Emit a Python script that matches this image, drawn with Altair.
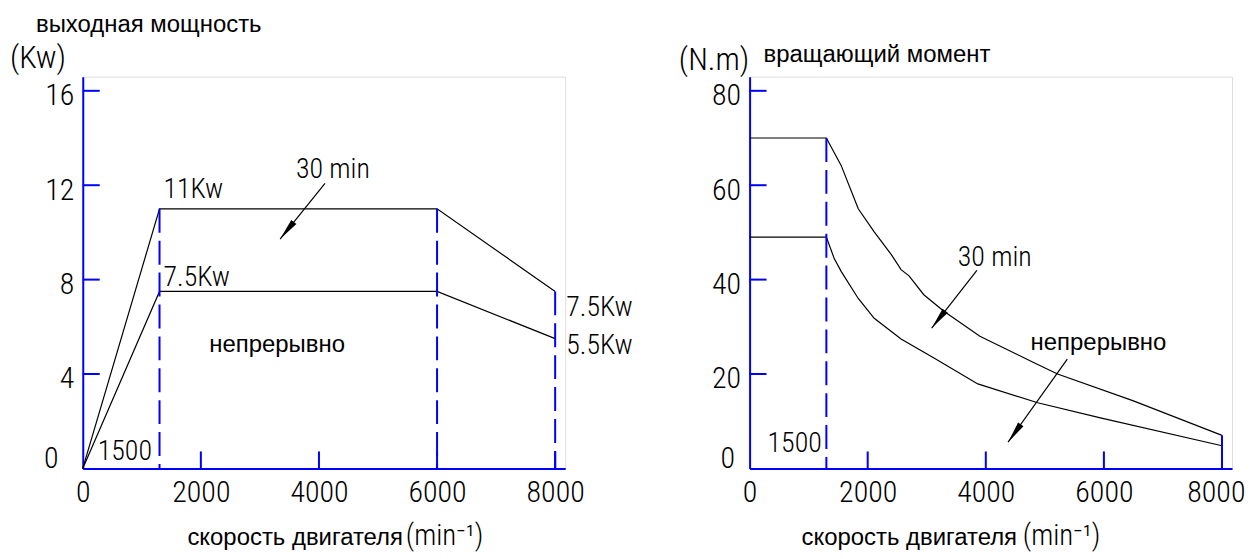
import math
import altair as alt
import pandas as pd

# ---------------- data ----------------
power_speed = [0, 1300, 6000, 8000]
power_30min = [0, 11, 11, 7.5]
power_cont = [0, 7.5, 7.5, 5.5]

torque_speed_30min = [0, 1300, 1550, 1840, 2110, 2400, 2565, 2700, 2950, 3290, 3900, 4800, 5215, 6500, 8000]
torque_30min = [70, 70, 64.2, 55.0, 50.1, 45.3, 42.1, 40.8, 36.8, 33.3, 28.0, 22.5, 20.0, 14.3, 7.0]
torque_speed_cont = [0, 1300, 1435, 1553, 1840, 2110, 2565, 3122, 3865, 4878, 5941, 8000]
torque_cont = [49, 49, 44.4, 41.7, 36.0, 31.8, 27.4, 23.4, 17.9, 13.9, 10.7, 4.8]

speed_labels = [0, 2000, 4000, 6000, 8000]
speed_ticks = [2000, 4000, 6000, 8000]
power_ticks = [4, 8, 12, 16]
torque_ticks = [20, 40, 60, 80]

power_guides_speed = [1300, 6000, 8000]
power_guides_top = [11, 11, 7.5]
torque_guides_speed = [1300, 8000]
torque_guides_top = [70, 7]

# ---------------- styling ----------------
BLUE = "#0000ff"
NARROW = "Roboto Condensed, DejaVu Sans Condensed, sans-serif"
SANS = "Liberation Sans, Arial, sans-serif"
LIGHT = 300
W, H = 484, 393
XMAX = 8170
PX_X = XMAX / W


def panel(ymax, yticks, series, guides, texts, arrows, anchors, pull_last=False):
    ppy = ymax / H
    xs = alt.Scale(domain=[0, XMAX], nice=False, zero=False)
    ys = alt.Scale(domain=[0, ymax], nice=False, zero=False)
    xextra = {}
    if pull_last:
        xextra = dict(
            labelAlign=alt.condition("datum.value == 8000", alt.value("right"), alt.value("center")),
            labelOffset=alt.condition("datum.value == 8000", alt.value(23), alt.value(0)),
        )
    xaxis = alt.Axis(values=speed_labels, format="d", title=None, grid=False, ticks=False, tickSize=0,
                     domainColor=BLUE, domainWidth=2, labelFont=NARROW, labelFontSize=30,
                     labelFontWeight=LIGHT, labelColor="black", labelPadding=9,
                     labelFlush=False, labelOverlap=False, **xextra)
    yaxis = alt.Axis(values=yticks, format="d", title=None, grid=False, ticks=False, tickSize=0,
                     domainColor=BLUE, domainWidth=2, labelFont=NARROW, labelFontSize=30,
                     labelFontWeight=LIGHT, labelColor="black", labelPadding=9, labelOffset=5,
                     labelBaseline="middle", labelFlush=False, labelOverlap=False)

    def X(f="x"):
        return alt.X(f"{f}:Q", scale=xs, axis=xaxis)

    def Y(f="y"):
        return alt.Y(f"{f}:Q", scale=ys, axis=yaxis)

    layers = []
    rows = []
    for name, sx, sy in series:
        for i, (a, b) in enumerate(zip(sx, sy)):
            rows.append({"s": name, "i": i, "x": a, "y": b})
    layers.append(alt.Chart(pd.DataFrame(rows)).mark_line(color="black", strokeWidth=1.2)
                  .encode(x=X(), y=Y(), detail="s:N", order="i:Q"))
    gdf = pd.DataFrame({"x": guides[0], "y": guides[1], "y2": [0] * len(guides[0])})
    layers.append(alt.Chart(gdf).mark_rule(color=BLUE, strokeWidth=2, strokeDash=[24, 8])
                  .encode(x=X(), y=Y(), y2="y2:Q"))
    layers.append(alt.Chart(pd.DataFrame({"y": yticks})).mark_rule(color=BLUE, strokeWidth=2)
                  .encode(y=Y(), x=alt.value(0), x2=alt.value(17)))
    layers.append(alt.Chart(pd.DataFrame({"x": speed_ticks})).mark_rule(color=BLUE, strokeWidth=2)
                  .encode(x=X(), y=alt.value(H), y2=alt.value(H - 17)))
    for t, x, y, font, size, align in texts:
        weight = LIGHT if font == NARROW else "normal"
        layers.append(alt.Chart(pd.DataFrame([{"x": x, "y": y, "t": t}]))
                      .mark_text(font=font, fontSize=size, fontWeight=weight, align=align,
                                 baseline="alphabetic", color="black")
                      .encode(x=X(), y=Y(), text="t:N"))
    for (x0, y0, x1, y1) in arrows:
        dxp = (x1 - x0) / PX_X
        dyp = -(y1 - y0) / ppy
        n = math.hypot(dxp, dyp)
        ux, uy = dxp / n, dyp / n
        ang = math.degrees(math.atan2(ux, -uy)) % 360
        L = 22
        cx = x1 - ux * L / 2 * PX_X
        cy = y1 + uy * L / 2 * ppy
        layers.append(alt.Chart(pd.DataFrame([{"x": x0, "y": y0, "x2": x1, "y2": y1}]))
                      .mark_rule(color="black", strokeWidth=1.2)
                      .encode(x=X(), y=Y(), x2="x2:Q", y2="y2:Q"))
        layers.append(alt.Chart(pd.DataFrame([{"x": cx, "y": cy}]))
                      .mark_point(shape="M0,-1L0.3,1L-0.3,1Z", filled=True, color="black",
                                  opacity=1, size=L * L, angle=ang)
                      .encode(x=X(), y=Y()))
    for (ax, ay) in anchors:
        layers.append(alt.Chart(pd.DataFrame([{"x": ax, "y": ay, "x2": ax + PX_X, "y2": ay}]))
                      .mark_rule(color="white", strokeWidth=1)
                      .encode(x=X(), y=Y(), x2="x2:Q", y2="y2:Q"))
    return alt.layer(*layers).properties(width=W, height=H)


left_texts = [
    ("(Kw)", -1232, 16.98, NARROW, 32, "left"),
    ("выходная мощность", -793, 18.5, SANS, 24, "left"),
    ("11Kw", 1367, 11.45, NARROW, 28, "left"),
    ("30 min", 4237, 12.29, NARROW, 28, "center"),
    ("7.5Kw", 1367, 7.73, NARROW, 28, "left"),
    ("непрерывно", 3292, 4.94, SANS, 24, "center"),
    ("7.5Kw", 8187, 6.46, NARROW, 28, "left"),
    ("5.5Kw", 8187, 4.86, NARROW, 28, "left"),
    ("1500", 253, 0.34, NARROW, 28, "left"),
    ("0", -532, 0, NARROW, 30, "center"),
    ("скорость двигателя", 1772, -3.25, SANS, 24, "left"),
    ("(min⁻¹)", 5469, -3.25, NARROW, 29, "left"),
]
left_arrows = [(4102, 12.08, 3342, 9.72)]

right_texts = [
    ("(N.m)", -1198, 84.5, NARROW, 32, "left"),
    ("вращающий момент", 236, 86.2, SANS, 24, "left"),
    ("30 min", 4152, 42.87, NARROW, 28, "center"),
    ("непрерывно", 5908, 25.13, SANS, 24, "center"),
    ("1500", 304, 3.38, NARROW, 28, "left"),
    ("0", -371, 0, NARROW, 30, "center"),
    ("скорость двигателя", 878, -16.25, SANS, 24, "left"),
    ("(min⁻¹)", 4625, -16.25, NARROW, 29, "left"),
]
right_arrows = [(3849, 41.97, 3084, 29.72), (5380, 23.17, 4377, 5.55)]

left = panel(16.6, power_ticks,
             [("30min", power_speed, power_30min), ("cont", power_speed, power_cont)],
             (power_guides_speed, power_guides_top), left_texts, left_arrows,
             [(-1249, 19.43), (9892, 7.1)])
right = panel(83, torque_ticks,
              [("30min", torque_speed_30min, torque_30min), ("cont", torque_speed_cont, torque_cont)],
              (torque_guides_speed, torque_guides_top), right_texts, right_arrows,
              [(-1317, 97.15)], pull_last=True)

chart = (alt.hconcat(left, right, spacing=0, padding=0)
         .configure_view(stroke=None)
         .configure(background="white"))

chart.save("out.html", embed_options={"renderer": "svg", "actions": False})
